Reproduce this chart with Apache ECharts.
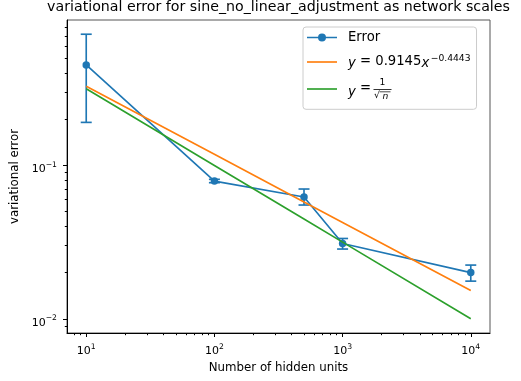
<!DOCTYPE html>
<html>
<head>
<meta charset="utf-8">
<script src="https://cdn.jsdelivr.net/npm/echarts@6/dist/echarts.min.js"></script>
<style>
  html, body { margin: 0; padding: 0; background: #fff; }
  #chart { width: 521px; height: 381px; }
</style>
</head>
<body>
<div id="chart"></div>
<script>
// Network width (hidden units) and the measured variational error
const hiddenUnits = [10, 100, 500, 1000, 10000];
const errorMean  = [0.453, 0.0791, 0.0623, 0.0310, 0.0200];
const errorLower = [0.191, 0.0772, 0.0552, 0.0285, 0.0176];
const errorUpper = [0.718, 0.0812, 0.0702, 0.0334, 0.0224];

// Power-law fit y = a * x^b, as stated in the legend
const fitCoefficient = 0.9145;
const fitExponent = -0.4443;

// Labelled decades on each axis
const xMajorTicks = [10, 100, 1000, 10000];
const yMajorTicks = [0.01, 0.1];

const C0 = '#1f77b4', C1 = '#ff7f0e', C2 = '#2ca02c';
const FONT = 'DejaVu Sans';

const fitLine = hiddenUnits.map(n => [n, fitCoefficient * Math.pow(n, fitExponent)]);
const sqrtLine = hiddenUnits.map(n => [n, 1 / Math.sqrt(n)]);

// Log-space extents with a 5% margin on each side
function logExtent(values) {
  const lo = Math.log10(Math.min(...values));
  const hi = Math.log10(Math.max(...values));
  const pad = (hi - lo) * 0.05;
  return [Math.pow(10, lo - pad), Math.pow(10, hi + pad)];
}
const [xMin, xMax] = logExtent(hiddenUnits);
const [yMin, yMax] = logExtent([
  ...errorLower, ...errorUpper,
  ...fitLine.map(p => p[1]), ...sqrtLine.map(p => p[1])
]);

// Minor ticks at 2..9 within each decade that falls inside the extent
function minorTicks(min, max) {
  const out = [];
  for (let e = Math.floor(Math.log10(min)); e <= Math.ceil(Math.log10(max)); e++) {
    for (let k = 2; k <= 9; k++) {
      const v = k * Math.pow(10, e);
      if (v >= min && v <= max) out.push(v);
    }
  }
  return out;
}
const xMinorTicks = minorTicks(xMin, xMax);
const yMinorTicks = minorTicks(yMin, yMax);

function powerLabel(v) {
  const e = Math.round(Math.log10(v));
  return '{b|10}{s|' + String(e).replace('-', '\u2212') + '}';
}
const powerRich = {
  b: { fontSize: 11, fontFamily: FONT, color: '#000', lineHeight: 14, verticalAlign: 'bottom' },
  s: { fontSize: 7.7, fontFamily: FONT, color: '#000', lineHeight: 5, verticalAlign: 'top' }
};

const gridRect = { left: 67, right: 31, top: 20, bottom: 48 };

// Legend handles: a plain line, and a line with a round marker
const lineIcon = 'path://M0,0 L30,0 L30,1.65 L0,1.65 Z';
const markerIcon = 'path://M0,6.2 L30,6.2 L30,7.8 L0,7.8 Z M19,7 A4,4 0 1 1 11,7 A4,4 0 1 1 19,7 Z';

const chart = echarts.init(document.getElementById('chart'), null, { renderer: 'canvas' });

chart.setOption({
  animation: false,
  backgroundColor: '#fff',
  title: {
    text: 'variational error for sine_no_linear_adjustment as network scales',
    left: 278.5, top: 0, textAlign: 'center', padding: 0,
    textStyle: { fontSize: 14.2, fontWeight: 'normal', fontFamily: FONT, color: '#000' }
  },
  grid: [
    Object.assign({ show: true, borderColor: '#555', borderWidth: 1 }, gridRect),
    Object.assign({ show: false }, gridRect)
  ],
  xAxis: [
    {
      type: 'log', logBase: 10, min: xMin, max: xMax, gridIndex: 0, position: 'bottom',
      name: 'Number of hidden units', nameLocation: 'middle', nameGap: 29,
      nameTextStyle: { fontSize: 11.8, fontFamily: FONT, color: '#000' },
      axisLine: { show: true, lineStyle: { color: '#000', width: 1 } },
      axisTick: { show: true, customValues: xMajorTicks, length: 4, lineStyle: { color: '#000', width: 1 } },
      axisLabel: { customValues: xMajorTicks, margin: 10, formatter: powerLabel, rich: powerRich },
      splitLine: { show: false }
    },
    {
      type: 'log', logBase: 10, min: xMin, max: xMax, gridIndex: 1, position: 'bottom',
      axisLine: { show: false },
      axisTick: { show: true, customValues: xMinorTicks, length: 2.2, lineStyle: { color: '#000', width: 1 } },
      axisLabel: { show: false },
      splitLine: { show: false }
    }
  ],
  yAxis: [
    {
      type: 'log', logBase: 10, min: yMin, max: yMax, gridIndex: 0, position: 'left',
      name: 'variational error', nameLocation: 'middle', nameGap: 38, nameRotate: 90,
      nameTextStyle: { fontSize: 11.8, fontFamily: FONT, color: '#000' },
      axisLine: { show: true, lineStyle: { color: '#000', width: 1 } },
      axisTick: { show: true, customValues: yMajorTicks, length: 4, lineStyle: { color: '#000', width: 1 } },
      axisLabel: { customValues: yMajorTicks, margin: 10, padding: [5, 0, 0, 0], formatter: powerLabel, rich: powerRich },
      splitLine: { show: false }
    },
    {
      type: 'log', logBase: 10, min: yMin, max: yMax, gridIndex: 1, position: 'left',
      axisLine: { show: false },
      axisTick: { show: true, customValues: yMinorTicks, length: 2.2, lineStyle: { color: '#000', width: 1 } },
      axisLabel: { show: false },
      splitLine: { show: false }
    }
  ],
  legend: {
    orient: 'vertical', left: 303, top: 27,
    padding: [2.5, 6, 9.8, 4], itemGap: 8.5, itemWidth: 30, itemHeight: 14,
    backgroundColor: 'rgba(255,255,255,0.8)', borderColor: '#ccc', borderWidth: 1, borderRadius: 3,
    data: [
      { name: 'Error', icon: markerIcon },
      { name: 'fit', icon: lineIcon },
      { name: 'sqrt', icon: lineIcon }
    ],
    formatter: name => {
      if (name === 'fit') return '{i|y} = 0.9145{i|x}{sup|\u22120.4443}';
      if (name === 'sqrt') return '{i|y} = {f|}';
      return name;
    },
    textStyle: {
      fontSize: 13.2, fontFamily: FONT, color: '#000', lineHeight: 16, padding: [0, 0, 0, 6],
      rich: {
        i: { fontStyle: 'italic', fontSize: 13.2, fontFamily: FONT, lineHeight: 16, verticalAlign: 'bottom' },
        sup: { fontSize: 9.2, fontFamily: FONT, lineHeight: 7, verticalAlign: 'top', padding: [0, 0, 0, 1.5] },
        f: { width: 20, height: 21, lineHeight: 21 }
      }
    }
  },
  // fraction 1/√n for the last legend entry
  graphic: [
    { type: 'text', z: 100, x: 382.5, y: 83, style: { text: '1', fontSize: 9.2, fontFamily: FONT, fill: '#000', align: 'center', verticalAlign: 'middle' } },
    { type: 'line', z: 100, shape: { x1: 373.5, y1: 89.5, x2: 391.5, y2: 89.5 }, style: { stroke: '#000', lineWidth: 0.8 } },
    { type: 'text', z: 100, x: 377, y: 96, style: { text: '\u221A', fontSize: 9.2, fontFamily: FONT, fill: '#000', align: 'center', verticalAlign: 'middle' } },
    { type: 'line', z: 100, shape: { x1: 379.5, y1: 91.8, x2: 390.5, y2: 91.8 }, style: { stroke: '#000', lineWidth: 0.7 } },
    { type: 'text', z: 100, x: 385.5, y: 96.5, style: { text: 'n', fontSize: 9.2, fontStyle: 'italic', fontFamily: FONT, fill: '#000', align: 'center', verticalAlign: 'middle' } }
  ],
  series: [
    {
      name: 'Error', type: 'line', xAxisIndex: 0, yAxisIndex: 0,
      data: hiddenUnits.map((n, i) => [n, errorMean[i]]),
      symbol: 'circle', symbolSize: 7.5, showSymbol: true,
      lineStyle: { color: C0, width: 1.65 }, itemStyle: { color: C0 }, z: 3
    },
    {
      name: 'ErrorBars', type: 'custom', xAxisIndex: 0, yAxisIndex: 0,
      data: hiddenUnits.map((n, i) => [n, errorLower[i], errorUpper[i]]),
      encode: { x: 0, y: [1, 2] },
      renderItem: (params, api) => {
        const lo = api.coord([api.value(0), api.value(1)]);
        const hi = api.coord([api.value(0), api.value(2)]);
        const hw = 5.5;
        const st = { stroke: C0, lineWidth: 1.65, fill: null };
        return {
          type: 'group',
          children: [
            { type: 'line', shape: { x1: lo[0], y1: lo[1], x2: hi[0], y2: hi[1] }, style: st },
            { type: 'line', shape: { x1: lo[0] - hw, y1: lo[1], x2: lo[0] + hw, y2: lo[1] }, style: st },
            { type: 'line', shape: { x1: hi[0] - hw, y1: hi[1], x2: hi[0] + hw, y2: hi[1] }, style: st }
          ]
        };
      },
      z: 2
    },
    {
      name: 'fit', type: 'line', xAxisIndex: 0, yAxisIndex: 0, data: fitLine,
      symbol: 'none', lineStyle: { color: C1, width: 1.65 }, itemStyle: { color: C1 }, z: 4
    },
    {
      name: 'sqrt', type: 'line', xAxisIndex: 0, yAxisIndex: 0, data: sqrtLine,
      symbol: 'none', lineStyle: { color: C2, width: 1.65 }, itemStyle: { color: C2 }, z: 4
    }
  ]
});
</script>
</body>
</html>
